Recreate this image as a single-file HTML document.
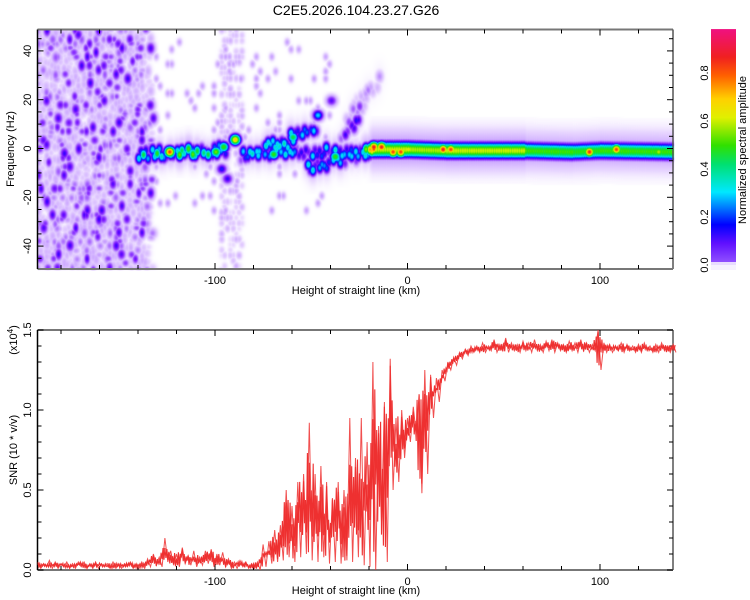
<!DOCTYPE html>
<html><head><meta charset="utf-8">
<style>
body{margin:0;background:#fff;width:750px;height:600px;overflow:hidden;font-family:"Liberation Sans",sans-serif;}
#wrap{position:relative;width:750px;height:600px;}
canvas{position:absolute;left:0;top:0;}
svg{position:absolute;left:0;top:0;}
text{font-family:"Liberation Sans",sans-serif;fill:#000;}
</style></head>
<body><div id="wrap">
<canvas id="hm" width="750" height="600"></canvas>
<svg id="sv" width="750" height="600"></svg>
</div>
<script>
// ---- data ----
const ridgeStartKm = [-140,-120,-112,-87,-78,-52,-35,-32,-28,-22,-18,0,20,60,85,100];
const ridgeEndKm   = [-120,-112,-95,-48,-25,-20,-26,-22,-15,-18,0,20,60,85,100,138];
const ridgeStartHz = [-2,-1,-1,-3,-1,-8,6,12,18,0,0,0,-0.5,-0.5,-1,-0.5];
const ridgeEndHz   = [-1,-1,0,9,-1,-1,12,20,28,0,0,-0.5,-0.5,-1,-0.5,-1];
const ridgeAmp     = [0.4,0.45,0.4,0.3,0.28,0.28,0.16,0.1,0.07,0.7,0.62,0.6,0.62,0.52,0.5,0.52];
const hotKm  = [-124,-100,-96,-90,-97,-94,-70,-60,-38,-18,-14,-8,-4,0,18,22,94,108,130,-40,-47];
const hotHz  = [-1,-1,1,4,-8,-12,-2,5,-3,1,1,-1,-1,0,0,0,-1,0,-1,20,14];
const hotAmp = [0.85,0.55,0.5,0.72,0.2,0.18,0.5,0.45,0.5,0.9,0.9,0.85,0.85,0.65,0.9,0.85,0.88,0.85,0.6,0.16,0.3];

const snrKmStart = -192, snrKmStep = 3;
const snrHi = [0.05,0.04,0.06,0.05,0.04,0.05,0.04,0.05,0.05,0.04,0.05,0.04,0.04,0.05,0.04,0.04,0.05,0.04,0.05,
0.07,0.10,0.08,0.20,0.12,0.10,0.14,0.09,0.12,0.08,0.12,0.13,0.10,0.11,
0.07,0.05,0.06,0.05,0.04,0.05,
0.16,0.18,0.25,0.28,0.50,0.40,0.55,0.60,0.92,0.60,0.65,0.55,
0.45,0.55,0.50,0.95,0.70,0.95,0.80,1.30,0.90,1.05,1.32,0.95,1.00,
0.95,1.02,1.10,1.25,1.22,1.20,1.25,1.30,1.33,1.36,1.38,1.40,1.40,
1.42,1.40,1.44,1.41,1.45,1.42,1.41,1.43,1.42,1.44,1.41,1.43,1.44,1.42,1.41,1.43,1.42,1.44,1.42,1.41,1.50,1.42,1.41,1.40,1.42,1.41,1.40,1.41,1.42,1.40,1.41,1.42,1.40,1.41];
const snrLo = [0.01,0.02,0.01,0.01,0.02,0.01,0.01,0.02,0.01,0.01,0.01,0.02,0.01,0.01,0.01,0.02,0.01,0.01,0.01,
0.02,0.03,0.02,0.05,0.03,0.02,0.04,0.03,0.02,0.03,0.04,0.02,0.03,0.02,
0.01,0.01,0.02,0.01,0.01,0.00,
0.02,0.04,0.05,0.06,0.08,0.05,0.08,0.10,0.06,0.05,0.08,0.04,
0.05,0.04,0.06,0.05,0.08,0.03,0.02,0.00,0.30,0.05,0.50,0.55,0.70,
0.80,0.85,0.48,0.60,0.95,1.05,1.18,1.25,1.28,1.32,1.34,1.36,1.36,
1.36,1.37,1.36,1.37,1.36,1.37,1.36,1.37,1.36,1.37,1.36,1.37,1.36,1.37,1.36,1.37,1.36,1.37,1.36,1.37,1.25,1.36,1.36,1.37,1.36,1.37,1.36,1.36,1.37,1.36,1.36,1.37,1.36,1.36];

const xTicks = [-100,0,100];
const hzTicks = [40,20,0,-20,-40];
const snrTicks = [0.0,0.5,1.0,1.5];
const cbTicks = [0.0,0.2,0.4,0.6,0.8];

// ---- geometry ----
const L=37.5,R=673,T1=29.5,B1=269,T2=330,B2=570;
const X = km => 215 + (km+100)*1.925;
const Y1 = hz => 148.5 - hz*2.44;
const Y2 = v => 570 - v*160;
const CBY = v => 265 - v*240;

const stops=[[0,255,255,255],[0.02,232,214,255],[0.06,200,160,255],[0.1,155,80,255],[0.14,120,20,255],[0.18,50,0,255],[0.22,0,50,255],[0.3,0,225,255],[0.42,0,225,90],[0.5,50,225,0],[0.62,220,240,0],[0.7,255,210,0],[0.8,255,100,0],[0.88,240,30,30],[1,240,20,140]];
function cmap(v){v=Math.max(0,Math.min(1,v));for(let i=1;i<stops.length;i++){if(v<=stops[i][0]){const a=stops[i-1],b=stops[i],t=(v-a[0])/(b[0]-a[0]);return [a[1]+(b[1]-a[1])*t,a[2]+(b[2]-a[2])*t,a[3]+(b[3]-a[3])*t];}}return [240,20,140];}

// ---- heatmap ----
const cv=document.getElementById('hm'),ctx=cv.getContext('2d');
const W=Math.round(R-L),H=Math.round(B1-T1);
const grid=new Float32Array(W*H);
function splat(px,py,amp,sx,sy){
  const x0=Math.max(0,Math.floor(px-L-2.5*sx)),x1=Math.min(W-1,Math.ceil(px-L+2.5*sx));
  const y0=Math.max(0,Math.floor(py-T1-2.5*sy)),y1=Math.min(H-1,Math.ceil(py-T1+2.5*sy));
  for(let y=y0;y<=y1;y++){const dy=(y+T1-py)/sy;for(let x=x0;x<=x1;x++){const dx=(x+L-px)/sx;const v=amp*Math.exp(-0.5*(dx*dx+dy*dy));const k=y*W+x;if(v>grid[k])grid[k]=v;}}
}
function hash(a,b){const s=Math.sin(a*127.1+b*311.7)*43758.5453;return s-Math.floor(s);}
// noise texture (left region)
for(let km=-193;km<=-133;km+=1.5){
  const edge = km>-140 ? (km+140)/7 : 0;
  for(let hz=-51;hz<=51;hz+=1.8){
    const h=hash(km,hz),h2=hash(hz+3.1,km*1.7),h3=hash(km*2.3,hz*0.7);
    if(h<0.25+edge*0.5) continue;
    let a=0.018+0.035*h2;
    if(h3>0.9) a=0.1+0.08*h2;
    else if(h3>0.78) a=0.06+0.04*h2;
    splat(X(km+(h2-0.5)*1.6),Y1(hz+(h3-0.5)*1.8),a,1.8+h*1.2,2.2+h2*2.2);
  }
}
for(let km=-97;km<=-86;km+=1.5){for(let hz=-50;hz<=50;hz+=2.2){const h=hash(km*3,hz);if(h>0.5)splat(X(km),Y1(hz),0.015+0.035*hash(hz,km*5),2,2.6);}}
for(let km=-135;km<=-40;km+=2){for(let hz=-25;hz<=45;hz+=3){const h=hash(km*7,hz*3);if(h>0.9)splat(X(km),Y1(hz),0.02+0.04*h,1.8,2.5);}}
// ridges
for(let i=0;i<ridgeStartKm.length;i++){
  const n=Math.max(2,Math.ceil(Math.abs(ridgeEndKm[i]-ridgeStartKm[i])/1.2));
  const early = ridgeEndKm[i] <= -15;
  for(let j=0;j<=n;j++){const t=j/n;const km=ridgeStartKm[i]+(ridgeEndKm[i]-ridgeStartKm[i])*t;let hz=ridgeStartHz[i]+(ridgeEndHz[i]-ridgeStartHz[i])*t;
    let a=ridgeAmp[i];
    if(early){const h=hash(km*5.3,i);a*= (0.35+0.9*h);hz+= (hash(i,km*3.1)-0.5)*4;}
    splat(X(km),Y1(hz),Math.min(0.08,a*0.12),4,early?9:13);
    splat(X(km),Y1(hz),a,2.6,early?4:5);
  }
}
for(let i=0;i<hotKm.length;i++){splat(X(hotKm[i]),Y1(hotHz[i]),hotAmp[i],3.5,3.5);}
const img=ctx.createImageData(W,H);
for(let k=0;k<W*H;k++){const c=cmap(grid[k]);img.data[k*4]=c[0];img.data[k*4+1]=c[1];img.data[k*4+2]=c[2];img.data[k*4+3]=255;}
ctx.putImageData(img,Math.round(L),Math.round(T1));

// ---- svg ----
const NS='http://www.w3.org/2000/svg',sv=document.getElementById('sv');
function el(tag,attrs,parent){const e=document.createElementNS(NS,tag);for(const k in attrs)e.setAttribute(k,attrs[k]);(parent||sv).appendChild(e);return e;}
function txt(s,x,y,size,rot,anchor){const e=el('text',{x:x,y:y,'font-size':size,'text-anchor':anchor||'middle'});if(rot)e.setAttribute('transform','rotate(-90 '+x+' '+y+')');e.textContent=s;return e;}

const title=txt('C2E5.2026.104.23.27.G26',356,15,14);



function frame(top,bot,name){
  const g=el('g',{});
  
  
  el('line',{x1:L,y1:top,x2:R,y2:top,stroke:'#777','stroke-width':2},g);
  el('line',{x1:R,y1:top,x2:R,y2:bot,stroke:'#555','stroke-width':1.5},g);
  el('line',{x1:L,y1:bot,x2:R,y2:bot,stroke:'#777','stroke-width':2},g);
  el('line',{x1:L,y1:top,x2:L,y2:bot,stroke:'#000','stroke-width':1.5},g);
  for(let km=-180;km<=138;km+=20){const x=X(km);const big=km%100===0;
    el('line',{x1:x,y1:top,x2:x,y2:top+(big?6:4),stroke:'#000'},g);
    el('line',{x1:x,y1:bot,x2:x,y2:bot-(big?6:4),stroke:'#000'},g);}
  return g;
}
frame(T1,B1,'spectrogram-frame');
frame(T2,B2,'snr-frame');
for(let hz=-45;hz<=45;hz+=5){const y=Y1(hz);const big=hz%20===0;
  el('line',{x1:L,y1:y,x2:L+(big?6:4),y2:y,stroke:'#000'});
  el('line',{x1:R,y1:y,x2:R-(big?6:4),y2:y,stroke:'#000'});}
for(const h of hzTicks){const t=txt(String(h),31,Y1(h),11,true);
  
  }
for(const k of xTicks){
  const a=txt(String(k),X(k),284,11);
  
  
  const b=txt(String(k),X(k),585,11);
  
  }
const xt1=txt('Height of straight line (km)',356,294,11);


const xt2=txt('Height of straight line (km)',356,594,11);


const yt1=txt('Frequency (Hz)',14,149,11,true);


for(let i=0;i<=15;i++){const v=i/10,y=Y2(v);const big=i%5===0;
  el('line',{x1:L,y1:y,x2:L+(big?6:4),y2:y,stroke:'#000'});
  el('line',{x1:R,y1:y,x2:R-(big?6:4),y2:y,stroke:'#000'});}
for(const v of snrTicks){const t=txt(v.toFixed(1),31,Y2(v),11,true);
  
  }
const yt2=txt('SNR (10 * v/v)',17,450,11,true);


const mul=el('text',{x:17,y:340,'font-size':11,'text-anchor':'middle',transform:'rotate(-90 17 340)'});
mul.innerHTML='(x10<tspan font-size="8" dy="-4">4</tspan><tspan dy="4">)</tspan>';



// SNR line: dense zigzag between interpolated hi/lo envelopes
function interp(arr,km){const f=(km-snrKmStart)/snrKmStep;const i=Math.max(0,Math.min(arr.length-2,Math.floor(f)));const t=Math.max(0,Math.min(1,f-i));return arr[i]+(arr[i+1]-arr[i])*t;}
let d='';
const kmEnd=snrKmStart+(snrHi.length-1)*snrKmStep+1.5;
let k=0;
for(let km=snrKmStart;km<=Math.min(kmEnd,139);km+=0.5,k++){
  const h=interp(snrHi,km),l=interp(snrLo,km);
  const jitter=hash(km*1.3,7.7);
  const v = (k%2===0) ? l+(h-l)*(0.55+0.45*jitter) : l+(h-l)*(0.45*jitter);
  d+=(k?'L':'M')+X(km).toFixed(1)+','+Y2(v).toFixed(1);
}
const line=el('path',{d:d,fill:'none',stroke:'#ee3030','stroke-width':1.1,'stroke-linejoin':'miter'});


let d2='';
for(let i=0;i<snrHi.length;i++){const km=snrKmStart+i*snrKmStep;
  d2+=(i?'L':'M')+X(km).toFixed(1)+','+Y2(snrHi[i]).toFixed(1)+'L'+X(km+1.5).toFixed(1)+','+Y2(snrLo[i]).toFixed(1);}
const line2=el('path',{d:d2,fill:'none',stroke:'#ee3030','stroke-width':1,'stroke-opacity':0.85});



// colorbar
const defs=el('defs',{});
const grad=el('linearGradient',{id:'cb',x1:0,y1:1,x2:0,y2:0},defs);
const cbStops=[[0,'#9050ff'],[0.08,'#6010ff'],[0.16,'#0000ff'],[0.3,'#00e8ff'],[0.42,'#00e070'],[0.5,'#30e000'],[0.62,'#e0f000'],[0.7,'#ffd000'],[0.8,'#ff6000'],[0.88,'#f02020'],[1,'#f01080']];
for(const s of cbStops)el('stop',{offset:s[0],'stop-color':s[1]},grad);
const cb=el('rect',{x:711,y:CBY(0.983),width:25,height:CBY(0.0125)-CBY(0.983),fill:'url(#cb)'});


el('rect',{x:711,y:CBY(0.0125),width:25,height:3,fill:'#e8dcff'});
el('rect',{x:711,y:CBY(0.0125)+3,width:25,height:5,fill:'#f6f2ff'});
for(const v of cbTicks){const t=txt(v.toFixed(1),708,CBY(v),11,true);
  
  }
const cbt=txt('Normalized spectral amplitude',746,150,11,true);


</script>
</body></html>
